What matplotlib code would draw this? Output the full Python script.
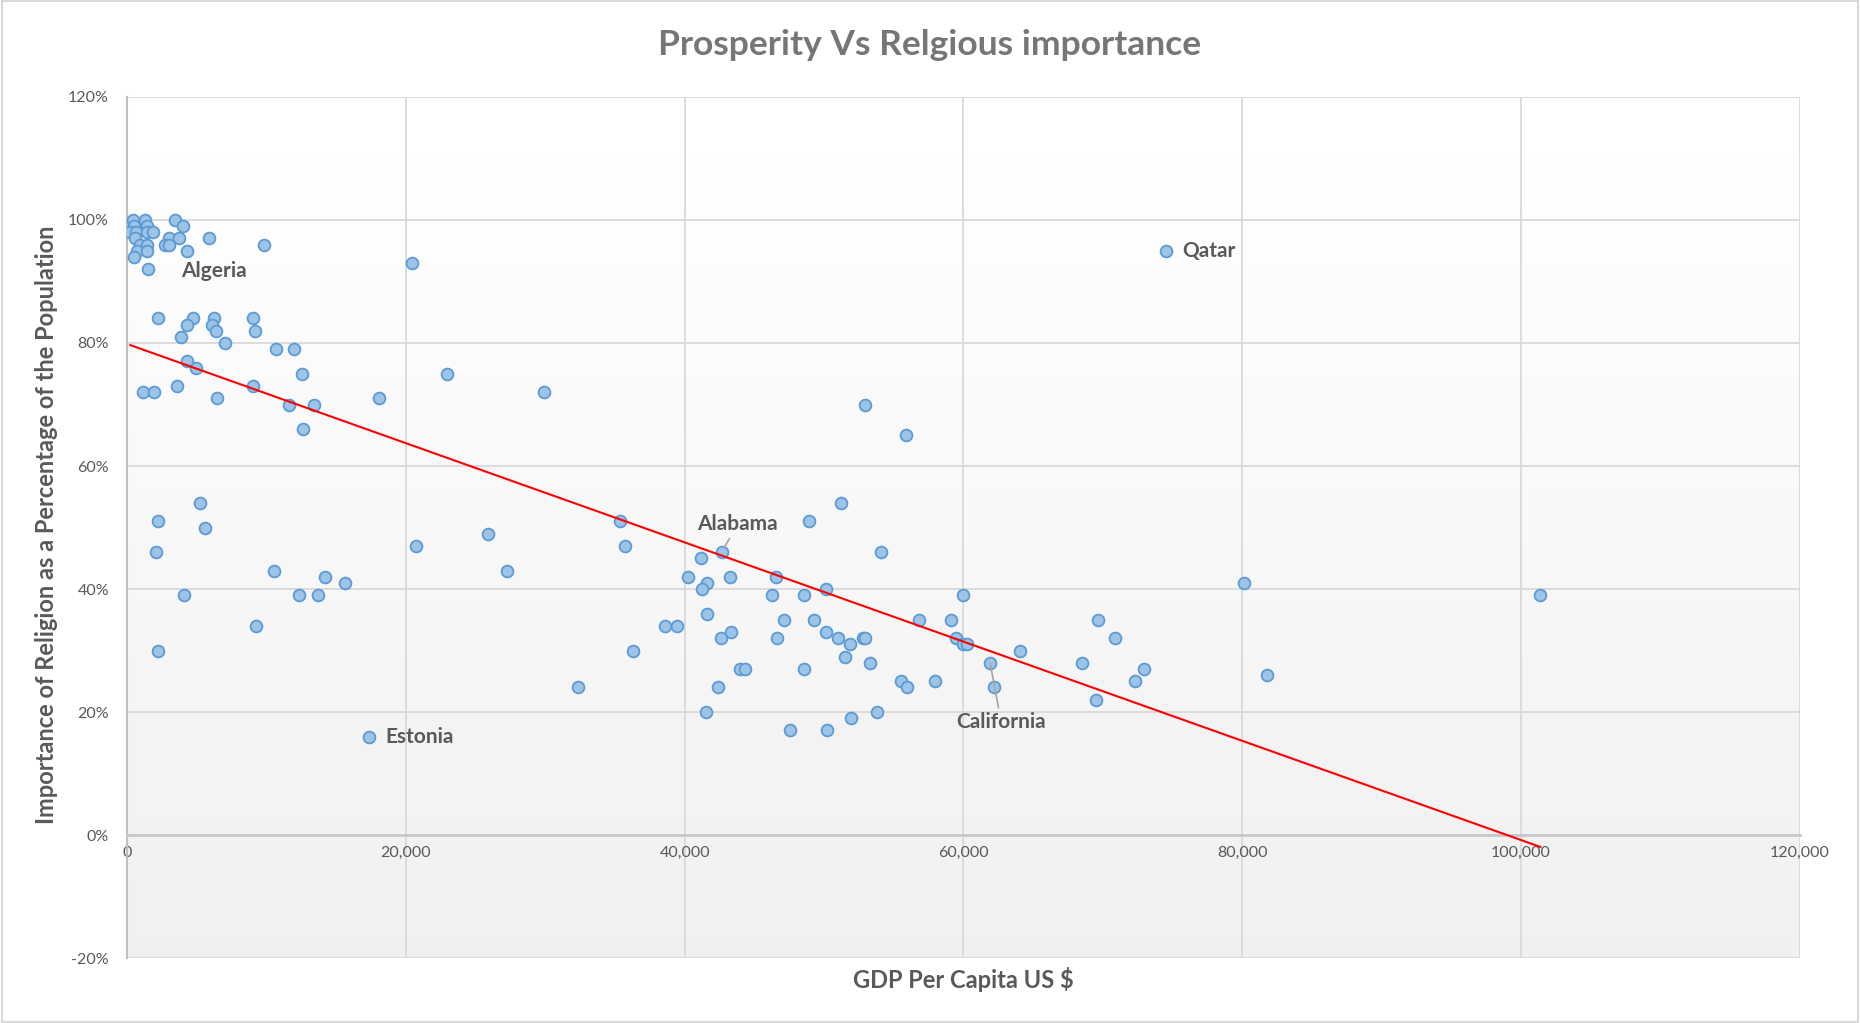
import numpy as np
import matplotlib
matplotlib.use("Agg")
import matplotlib.pyplot as plt
from matplotlib.patches import Rectangle

# GDP per capita (US $) and share of people saying religion is important (%)
gdp = [
    405, 1290, 3430, 3980, 1400, 480, 240, 640, 1400, 1880,
    570, 930, 1400, 690, 1450, 500, 3000, 3700, 2720, 3030,
    4270, 5890, 9820, 20470, 1500, 2220, 4700, 6220, 6120, 6360,
    4270, 3840, 9060, 9200, 7010, 10700, 11990, 4270, 4930, 12560,
    22970, 1170, 1930, 3550, 6460, 9060, 11610, 13420, 18090, 12630,
    29940,
    5200, 2190, 5580, 2070, 10560, 14230, 15660, 4080, 12300, 13700,
    9270, 2190, 20710, 25860, 27220, 17370,
    32320, 36300, 35380, 35720, 52900, 55880, 101380,
    51240, 48950, 54110, 42650, 41150, 40240, 43220, 41580, 41220, 46520,
    46300, 48590, 50170, 59980, 41580, 38590, 39430, 47160, 49310, 56830,
    59100, 42580, 43290, 46590, 50170, 51030, 51890, 52770, 52910, 59430,
    60000, 60240, 51480, 53320, 61910, 64080, 68500, 43940, 44320, 48590,
    42360, 55540, 55970, 57970, 62220, 41500, 53820, 51960, 47540, 50240,
    69500, 69670,
    80150, 81770, 70870, 72950, 72310,
    74500,
]
religion = [
    100, 100, 100, 99, 99, 99, 98, 98, 98, 98,
    97, 96, 96, 95, 95, 94, 97, 97, 96, 96,
    95, 97, 96, 93, 92, 84, 84, 84, 83, 82,
    83, 81, 84, 82, 80, 79, 79, 77, 76, 75,
    75, 72, 72, 73, 71, 73, 70, 70, 71, 66,
    72,
    54, 51, 50, 46, 43, 42, 41, 39, 39, 39,
    34, 30, 47, 49, 43, 16,
    24, 30, 51, 47, 70, 65, 39,
    54, 51, 46, 46, 45, 42, 42, 41, 40, 42,
    39, 39, 40, 39, 36, 34, 34, 35, 35, 35,
    35, 32, 33, 32, 33, 32, 31, 32, 32, 32,
    31, 31, 29, 28, 28, 30, 28, 27, 27, 27,
    24, 25, 24, 25, 24, 20, 20, 19, 17, 17,
    22, 35,
    41, 26, 32, 27, 25,
    95,
]

# labelled points
labels = ["Algeria", "Estonia", "Qatar", "Alabama", "California"]
label_gdp = [1500, 17370, 74500, 42650, 61910]
label_rel = [92, 16, 95, 46, 28]

x_ticks = [0, 20000, 40000, 60000, 80000, 100000, 120000]
y_ticks = [-20, 0, 20, 40, 60, 80, 100, 120]

x = np.array(gdp, dtype=float)
y = np.array(religion, dtype=float)

plt.rcParams['font.family'] = ['Lato', 'DejaVu Sans']

fig = plt.figure(figsize=(18.6, 10.23), dpi=100)
ax = fig.add_axes([0.0683, 0.0635, 0.8994, 0.8417])

# soft vertical gradient in the plot area
grad = np.linspace(0.94, 1.0, 256).reshape(-1, 1)
ax.imshow(grad, cmap='gray', vmin=0, vmax=1, aspect='auto', origin='lower',
          extent=[0, 1, 0, 1], transform=ax.transAxes, zorder=0)

ax.set_xlim(0, 120000)
ax.set_ylim(-20, 120)
ax.set_xticks(x_ticks)
ax.set_yticks(y_ticks)
ax.set_xticklabels([f"{v:,}" for v in x_ticks])
ax.set_yticklabels([f"{v}%" for v in y_ticks])
ax.grid(True, color='#d9d9d9', lw=1.3, zorder=1)
ax.tick_params(length=0, labelsize=11.5, labelcolor='#595959')
ax.tick_params(axis='y', pad=13)
ax.tick_params(axis='x', pad=8)

for s in ['top', 'right']:
    ax.spines[s].set_visible(False)
ax.spines['left'].set_color('#bfbfbf')
ax.spines['left'].set_linewidth(1.5)
ax.spines['bottom'].set_position(('data', 0))
ax.spines['bottom'].set_color('#c8c8c8')
ax.spines['bottom'].set_linewidth(2)
ax.axhline(-20, color='#d9d9d9', lw=2, zorder=1)

ax.scatter(x, y, s=72, facecolor='#9dc3e6', edgecolor='#5b9bd5',
           linewidth=1.3, zorder=3)

# linear trend line over the data range
k, b = np.polyfit(x, y, 1)
xs = np.array([x.min(), x.max()])
ax.plot(xs, k * xs + b, color='#ff0000', lw=1.5, zorder=4)

lab_style = dict(fontsize=15, fontweight='bold', color='#595959', zorder=5)
ax.annotate(labels[0], (label_gdp[0], label_rel[0]), xytext=(24, -1),
            textcoords='offset points', va='center', ha='left', **lab_style)
ax.annotate(labels[1], (label_gdp[1], label_rel[1]), xytext=(12, 0),
            textcoords='offset points', va='center', ha='left', **lab_style)
ax.annotate(labels[2], (label_gdp[2], label_rel[2]), xytext=(12, 0),
            textcoords='offset points', va='center', ha='left', **lab_style)
ax.annotate(labels[3], (label_gdp[3], label_rel[3]), xytext=(43800, 50.5),
            va='center', ha='center',
            arrowprops=dict(arrowstyle='-', color='#a6a6a6', lw=1.2,
                            shrinkA=1, shrinkB=3), **lab_style)
ax.annotate(labels[4], (label_gdp[4], label_rel[4]), xytext=(62700, 18.4),
            va='center', ha='center',
            arrowprops=dict(arrowstyle='-', color='#a6a6a6', lw=1.2,
                            shrinkA=1, shrinkB=0), **lab_style)

ax.set_xlabel("GDP Per Capita US $", fontsize=17, fontweight='bold',
              color='#595959')
ax.xaxis.set_label_coords(0.5, -0.010)
ax.xaxis.label.set_va('top')
ax.set_ylabel("Importance of Religion as a Percentage of the Population",
              fontsize=17, fontweight='bold', color='#595959')
ax.yaxis.set_label_coords(-0.048, 0.503)
ax.yaxis.label.set_va('center')

fig.text(0.5, 1 - 45 / 1023, "Prosperity Vs Relgious importance",
         ha='center', va='center', fontsize=25.5, fontweight='bold',
         color='#767676')

# chart border
fig.patches.append(Rectangle((0.001, 0.001), 0.998, 0.998,
                             transform=fig.transFigure, fill=False,
                             edgecolor='#d9d9d9', lw=1.5))

fig.savefig("out.png", dpi=100)
